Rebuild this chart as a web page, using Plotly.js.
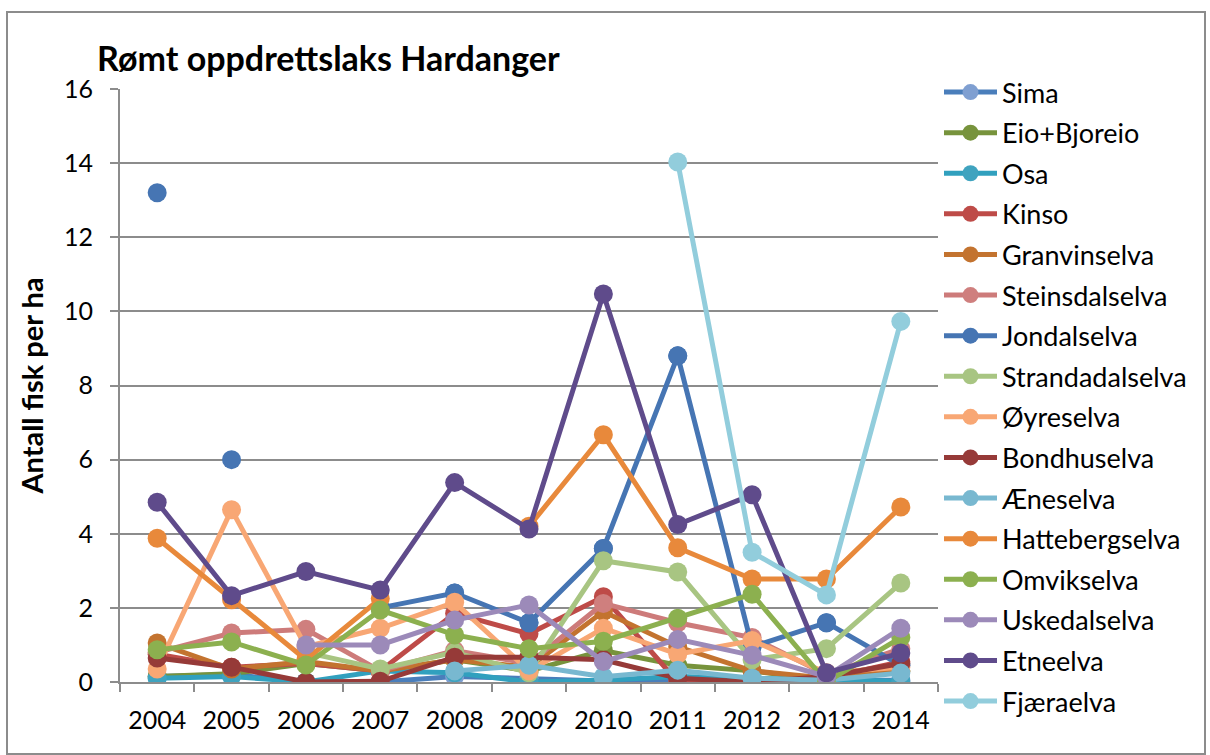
<!DOCTYPE html>
<html>
<head>
<meta charset="utf-8">
<script src="https://cdn.plot.ly/plotly-3.0.1.min.js"></script>
<style>
  html, body { margin: 0; padding: 0; background: #ffffff; }
  #frame { position: absolute; left: 6px; top: 11px; width: 1200px; height: 744px; border: 2px solid #8c8c8c; box-sizing: border-box; }
  #chart { position: absolute; left: 0; top: 0; width: 1210px; height: 755px; }
</style>
</head>
<body>
<div id="frame"></div>
<div id="chart"></div>
<script>
// ---- data ----
const years = ['2004','2005','2006','2007','2008','2009','2010','2011','2012','2013','2014'];
const sima            = [0.15, 0.2, 0.0, 0.0, 0.15, 0.1, 0.03, 0.05, 0.05, 0.05, 0.05];
const eioBjoreio      = [0.15, 0.22, 0.5, 0.3, 0.6, 0.3, 0.85, 0.45, 0.3, 0.05, 0.3];
const osa             = [0.1, 0.15, 0.0, 0.3, 0.25, 0.0, 0.05, 0.15, 0.1, 0.05, 0.02];
const kinso           = [0.75, 0.4, 0.5, 0.3, 1.85, 1.3, 2.3, 0.0, 0.0, 0.1, 0.55];
const granvinselva    = [1.05, 0.35, 0.55, 0.3, 0.6, 0.4, 1.9, 0.95, 0.3, 0.1, 0.3];
const steinsdalselva  = [0.8, 1.32, 1.42, 0.3, 0.85, 0.5, 2.12, 1.6, 1.2, 0.2, 0.9];
const jondalselva     = [13.2, 6.0, null, 2.0, 2.4, 1.6, 3.6, 8.8, 0.95, 1.6, 0.45];
const strandadalselva = [null, null, 0.8, 0.35, 0.8, 0.25, 3.27, 2.97, 0.6, 0.9, 2.67];
const oyreselva       = [0.35, 4.65, 0.95, 1.45, 2.15, 0.3, 1.45, 0.75, 1.12, 0.25, 0.4];
const bondhuselva     = [0.65, 0.4, 0.0, 0.02, 0.67, 0.67, 0.6, 0.1, 0.0, 0.15, 0.5];
const aeneselva       = [null, null, null, null, 0.3, 0.45, 0.14, 0.32, 0.1, 0.05, 0.24];
const hattebergselva  = [3.88, 2.22, 0.6, 2.25, null, 4.2, 6.67, 3.62, 2.78, 2.78, 4.72];
const omvikselva      = [0.87, 1.08, 0.46, 1.94, 1.27, 0.9, 1.1, 1.72, 2.37, 0.0, 1.2];
const uskedalselva    = [null, null, 1.0, 1.0, 1.67, 2.08, 0.55, 1.15, 0.72, 0.15, 1.45];
const etneelva        = [4.85, 2.33, 2.98, 2.48, 5.38, 4.13, 10.47, 4.25, 5.05, 0.25, 0.78];
const fjaeraelva      = [null, null, null, null, null, null, null, 14.03, 3.5, 2.35, 9.73];

const seriesNames = ['Sima','Eio+Bjoreio','Osa','Kinso','Granvinselva','Steinsdalselva','Jondalselva',
  'Strandadalselva','Øyreselva','Bondhuselva','Æneselva','Hattebergselva','Omvikselva','Uskedalselva',
  'Etneelva','Fjæraelva'];
const seriesValues = [sima, eioBjoreio, osa, kinso, granvinselva, steinsdalselva, jondalselva,
  strandadalselva, oyreselva, bondhuselva, aeneselva, hattebergselva, omvikselva, uskedalselva,
  etneelva, fjaeraelva];
const lineColors = ['#4A7EBB','#77933C','#31A0BE','#BE4B48','#C3732F','#CD7B7A','#4675B3',
  '#A8C582','#F8A774','#963A38','#78B8D0','#E8893B','#8CB04F','#9C8AB9','#5F4B8B','#92CDDC'];
const markerColors = ['#7F9FD1','#77933C','#3FA3BF','#BE4B48','#C3732F','#CF7F7E','#4675B3',
  '#A8C582','#F8A774','#963A38','#78B8D0','#E8893B','#8CB04F','#9C8AB9','#5F4B8B','#92CDDC'];

const FONT = 'Lato, "Open Sans", sans-serif';
const traces = [];
seriesValues.forEach((vals, i) => {
  const name = seriesNames[i];
  if (name === 'Jondalselva') {
    // in the reference the first two points are not joined to each other
    traces.push({
      x: years, y: vals, type: 'scatter', mode: 'markers', showlegend: false,
      legendgroup: 'g' + i, hoverinfo: 'skip',
      marker: { size: 19, color: markerColors[i] }
    });
    traces.push({
      x: years, y: vals.map((v, k) => (k < 2 ? null : v)), type: 'scatter', mode: 'lines+markers',
      name: name, legendgroup: 'g' + i, connectgaps: false,
      line: { color: lineColors[i], width: 5 },
      marker: { size: 19, color: markerColors[i] }
    });
  } else {
    traces.push({
      x: years, y: vals, type: 'scatter', mode: 'lines+markers',
      name: name, legendgroup: 'g' + i, connectgaps: false,
      line: { color: lineColors[i], width: 5 },
      marker: { size: 19, color: markerColors[i] }
    });
  }
});

const layout = {
  width: 1210, height: 755,
  paper_bgcolor: 'rgba(0,0,0,0)', plot_bgcolor: '#ffffff',
  margin: { l: 120, r: 272, t: 89, b: 73 },
  font: { family: FONT, size: 22, color: '#000000' },
  title: {
    text: '<b>Rømt oppdrettslaks Hardanger</b>',
    font: { family: FONT, size: 34, color: '#000000' },
    x: 97 / 1210, xref: 'container', xanchor: 'left',
    y: 1 - 59 / 755, yref: 'container', yanchor: 'middle'
  },
  xaxis: {
    type: 'category', categoryorder: 'array', categoryarray: years,
    range: [-0.5, 10.5], fixedrange: true,
    tickson: 'boundaries', ticks: 'outside', ticklen: 8, tickwidth: 2, tickcolor: '#8c8c8c',
    ticklabelstandoff: 15,
    showline: true, linecolor: '#8c8c8c', linewidth: 2,
    showgrid: false, zeroline: false,
    tickfont: { family: FONT, size: 25, color: '#000000' }
  },
  yaxis: {
    range: [0, 16], dtick: 2, tick0: 0, fixedrange: true,
    ticks: 'outside', ticklen: 8, tickwidth: 2, tickcolor: '#8c8c8c',
    ticklabelstandoff: 12,
    showline: true, linecolor: '#8c8c8c', linewidth: 2,
    showgrid: true, gridcolor: '#8c8c8c', gridwidth: 2, zeroline: false,
    tickfont: { family: FONT, size: 25, color: '#000000' },
    title: { text: '<b>Antall fisk per ha</b>', font: { family: FONT, size: 29, color: '#000000' }, standoff: 12 }
  },
  showlegend: true,
  legend: {
    x: (939 - 120) / 818, xanchor: 'left', y: (682 - 68) / 593, yanchor: 'top',
    bgcolor: 'rgba(0,0,0,0)', borderwidth: 0,
    font: { family: FONT, size: 27, color: '#000000' },
    tracegroupgap: 2.5, itemwidth: 53, traceorder: 'grouped', maxheight: 740
  }
};

Plotly.newPlot('chart', traces, layout, { staticPlot: true, displayModeBar: false });
</script>
</body>
</html>
